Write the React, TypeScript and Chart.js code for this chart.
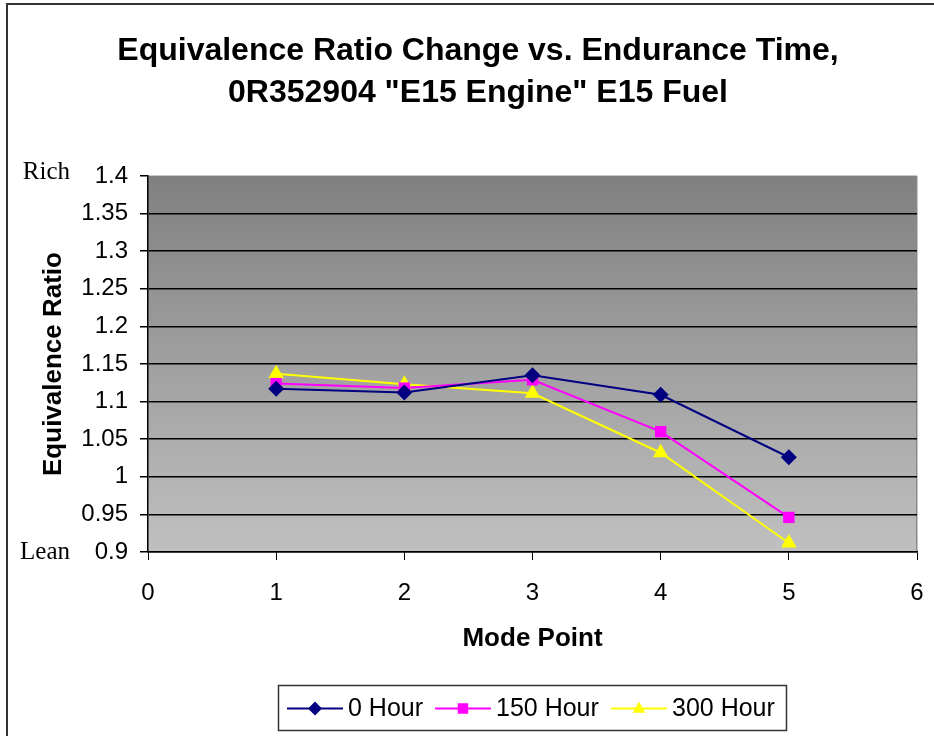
import React, { useEffect, useRef } from "react";
import { Chart, registerables } from "chart.js";

Chart.register(...registerables);

const modePoints = [1, 2, 3, 4, 5];
const hour0 = [1.117, 1.112, 1.135, 1.109, 1.026];
const hour150 = [1.124, 1.118, 1.129, 1.06, 0.946];
const hour300 = [1.137, 1.123, 1.111, 1.032, 0.912];
const seriesNames = ["0 Hour", "150 Hour", "300 Hour"];
const titleLines = [
  "Equivalence Ratio Change vs. Endurance Time,",
  '0R352904 "E15 Engine" E15 Fuel',
];
const yAxisTitle = "Equivalence Ratio";
const xAxisTitle = "Mode Point";
const richLabel = "Rich";
const leanLabel = "Lean";

const SANS = "'Liberation Sans', Arial, sans-serif";
const SERIF = "'Liberation Serif', 'Times New Roman', serif";

const colors = ["#000080", "#FF00FF", "#FFFF00"];
const styles: any[] = ["rectRot", "rect", "triangle"];
const radii = [8, 8, 9];

function drawMarker(ctx: CanvasRenderingContext2D, style: string, x: number, y: number, r: number, color: string) {
  ctx.save();
  ctx.fillStyle = color;
  ctx.beginPath();
  if (style === "rectRot") {
    ctx.moveTo(x, y - r);
    ctx.lineTo(x + r, y);
    ctx.lineTo(x, y + r);
    ctx.lineTo(x - r, y);
  } else if (style === "rect") {
    const s = r * 0.75;
    ctx.rect(x - s, y - s, 2 * s, 2 * s);
  } else {
    ctx.moveTo(x, y - r);
    ctx.lineTo(x + r * 0.9, y + r * 0.6);
    ctx.lineTo(x - r * 0.9, y + r * 0.6);
  }
  ctx.closePath();
  ctx.fill();
  ctx.restore();
}

const decorPlugin = {
  id: "decor",
  beforeDraw(chart: any) {
    const { ctx, chartArea } = chart;
    const { left, top, right, bottom } = chartArea;
    ctx.save();
    ctx.fillStyle = "#ffffff";
    ctx.fillRect(0, 0, chart.width, chart.height);
    const g = ctx.createLinearGradient(0, top, 0, bottom);
    g.addColorStop(0, "#808080");
    g.addColorStop(1, "#c0c0c0");
    ctx.fillStyle = g;
    ctx.fillRect(left, top, right - left, bottom - top);
    // outer border (top and left)
    ctx.fillStyle = "#333333";
    ctx.fillRect(6, 3, chart.width - 6, 2);
    ctx.fillRect(6, 3, 2, chart.height - 3);
    // plot area top and right borders
    ctx.fillStyle = "#c8c8c8";
    ctx.fillRect(left, top - 1, right - left, 1);
    ctx.fillStyle = "#8a8a8a";
    ctx.fillRect(right - 1, top, 1.5, bottom - top);
    ctx.restore();
  },
  afterDraw(chart: any) {
    const { ctx } = chart;
    ctx.save();
    // title
    ctx.fillStyle = "#000";
    ctx.textAlign = "center";
    ctx.textBaseline = "middle";
    ctx.font = `bold 32px ${SANS}`;
    ctx.fillText(titleLines[0], 478, 51);
    ctx.fillText(titleLines[1], 478, 93);
    // Rich / Lean
    ctx.font = `25px ${SERIF}`;
    ctx.textAlign = "right";
    ctx.fillText(richLabel, 70, 172);
    ctx.fillText(leanLabel, 70, 552);
    // legend
    const bx = 278, by = 685, bw = 508, bh = 45;
    ctx.strokeStyle = "#333333";
    ctx.lineWidth = 1.5;
    ctx.strokeRect(bx + 0.5, by + 0.5, bw, bh);
    const starts = [287, 435, 611];
    const cy = by + bh / 2 + 1;
    ctx.font = `25px ${SANS}`;
    ctx.textAlign = "left";
    for (let i = 0; i < 3; i++) {
      const x0 = starts[i];
      ctx.strokeStyle = colors[i];
      ctx.lineWidth = 2;
      ctx.beginPath();
      ctx.moveTo(x0, cy);
      ctx.lineTo(x0 + 56, cy);
      ctx.stroke();
      drawMarker(ctx, styles[i], x0 + 28, cy, 7, colors[i]);
      ctx.fillStyle = "#000";
      ctx.fillText(seriesNames[i], x0 + 61, cy + 1);
    }
    ctx.restore();
  },
};

export default function App() {
  const ref = useRef<HTMLCanvasElement | null>(null);
  useEffect(() => {
    if (!ref.current) return;
    const all = [hour0, hour150, hour300];
    const chart = new Chart(ref.current, {
      type: "line",
      data: {
        datasets: all.map((vals, i) => ({
          label: seriesNames[i],
          data: modePoints.map((m, j) => ({ x: m, y: vals[j] })),
          borderColor: colors[i],
          backgroundColor: colors[i],
          borderWidth: 2,
          pointStyle: styles[i],
          pointRadius: radii[i],
          pointBorderWidth: 0,
          pointHoverRadius: radii[i],
          fill: false,
          tension: 0,
        })),
      },
      options: {
        responsive: false,
        animation: false,
        devicePixelRatio: 1,
        layout: { padding: { left: 0, right: 17, top: 176, bottom: 76 } },
        plugins: { legend: { display: false }, title: { display: false }, tooltip: { enabled: false } },
        scales: {
          x: {
            type: "linear",
            min: 0,
            max: 6,
            ticks: { stepSize: 1, color: "#000", padding: 19, font: { family: SANS, size: 24 } },
            grid: { drawOnChartArea: false, drawTicks: true, tickLength: 8, tickColor: "#000" },
            border: { color: "#000", width: 1.5 },
            title: { display: true, text: xAxisTitle, color: "#000", font: { family: SANS, size: 26, weight: "bold" }, padding: { top: 0, bottom: 6 } },
            afterFit(scale: any) {
              scale.height = 108;
              scale.paddingLeft = 0;
              scale.paddingRight = 0;
            },
          },
          y: {
            min: 0.9,
            max: 1.4,
            ticks: {
              stepSize: 0.05,
              color: "#000",
              padding: 12,
              font: { family: SANS, size: 24 },
              callback: (v: any) => parseFloat(Number(v).toFixed(2)).toString(),
            },
            grid: {
              drawTicks: true,
              tickLength: 8,
              tickColor: "#000",
              lineWidth: 1.5,
              color: (c: any) => (c.tick && Math.abs(c.tick.value - 1.4) < 1e-6 ? "rgba(0,0,0,0)" : "#000"),
            },
            border: { color: "#000", width: 1.5 },
            title: { display: true, text: yAxisTitle, color: "#000", font: { family: SANS, size: 26, weight: "bold" }, padding: { top: 38, bottom: 0 } },
            afterFit(scale: any) {
              scale.width = 148;
              scale.paddingTop = 0;
              scale.paddingBottom = 0;
            },
          },
        },
      },
      plugins: [decorPlugin],
    } as any);
    return () => chart.destroy();
  }, []);
  return (
    <div style={{ position: "fixed", left: 0, top: 0, width: 934, height: 736 }}>
      <canvas ref={ref} width={934} height={736} />
    </div>
  );
}
